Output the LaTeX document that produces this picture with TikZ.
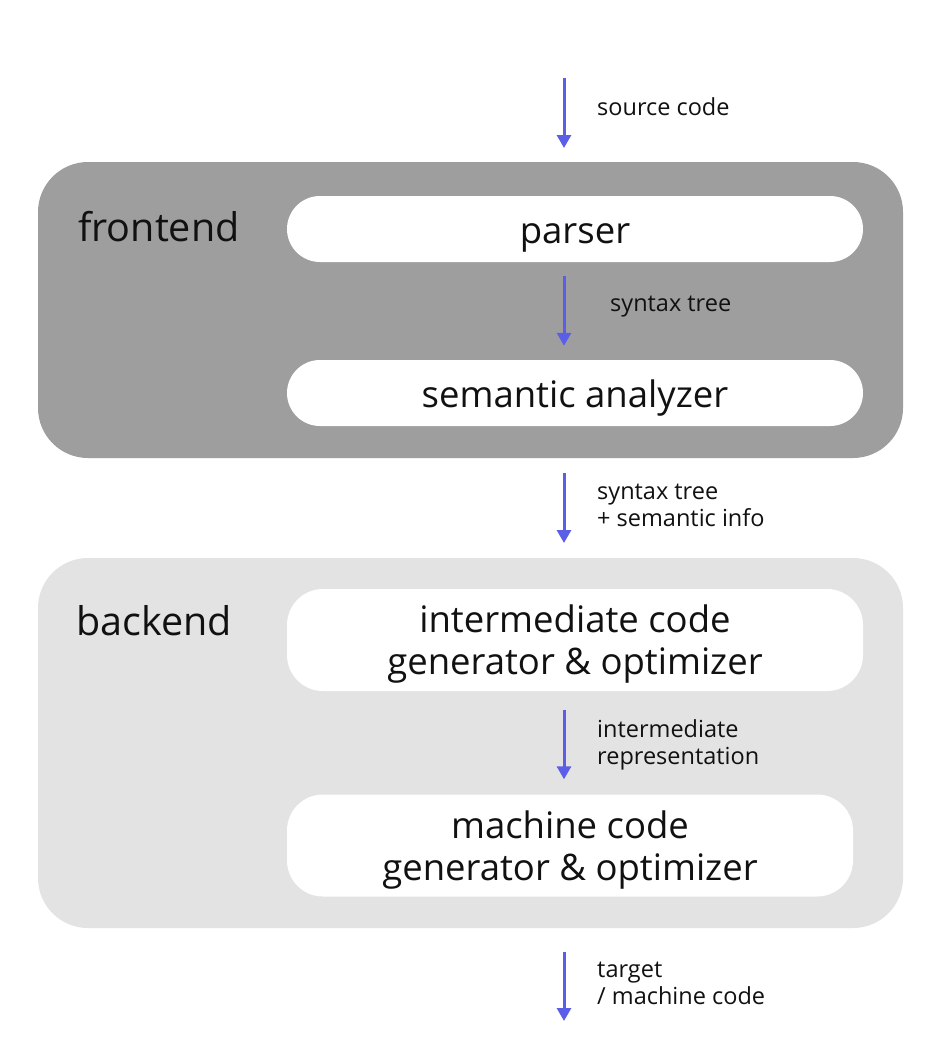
\documentclass[tikz,border=0pt]{standalone}
\usepackage{fontspec}
\setmainfont{Open Sans}
\usetikzlibrary{arrows.meta}
\definecolor{arrowc}{HTML}{5B5FE8}
\definecolor{frontc}{HTML}{9E9E9E}
\definecolor{backc}{HTML}{E3E3E3}
\definecolor{txt}{HTML}{111111}
\begin{document}
\begin{tikzpicture}[x=1pt,y=-1pt,
  group/.style={fill=#1,draw=none,rounded corners=50pt},
  stage/.style={fill=white,draw=none,rounded corners=33pt,minimum width=576pt,inner sep=0pt},
  stagetext/.style={anchor=base,text=txt,font=\fontsize{36.5}{43}\selectfont,inner sep=0pt},
  grouplabel/.style={anchor=base west,text=txt,font=\fontsize{39.5}{44}\selectfont,inner sep=0pt},
  flowlabel/.style={anchor=base west,text=txt,font=\fontsize{23.5}{27}\selectfont,inner sep=0pt},
  flow/.style={draw=arrowc,line width=3pt,-{Triangle[length=13pt,width=14pt]}}]
\useasboundingbox (0,0) rectangle (944,1049);
\fill[white] (0,0) rectangle (944,1049);
% groups
\path[group=frontc] (38,162) rectangle (903,458);
\path[group=backc] (38,558) rectangle (903,928);
\node[grouplabel] (fe) at (78,241) {frontend};
\node[grouplabel] (be) at (76,635) {backend};
% stages
\node[stage,minimum height=66pt] (parser) at (575,229) {};
\node[stage,minimum height=66pt] (sem) at (575,393) {};
\node[stage,minimum height=102pt,rounded corners=36pt] (inter) at (575,640) {};
\node[stage,minimum height=102pt,minimum width=566pt,rounded corners=36pt] (mach) at (570,845.5) {};
\node[stagetext] (parser-t) at (575,243) {parser};
\node[stagetext] (sem-t) at (575,407) {semantic analyzer};
\node[stagetext] (inter-t1) at (575,632) {intermediate code};
\node[stagetext] (inter-t2) at (575,674) {generator \& optimizer};
\node[stagetext] (mach-t1) at (570,838) {machine code};
\node[stagetext] (mach-t2) at (570,880) {generator \& optimizer};
% arrow endpoints
\coordinate (a0) at (564,78);
\coordinate (a0e) at (564,148);
\coordinate (a1) at ([xshift=-11pt,yshift=-14pt]parser.south);
\coordinate (a1e) at ([xshift=-11pt,yshift=14pt]sem.north);
\coordinate (a2) at (564,473);
\coordinate (a2e) at (564,543);
\coordinate (a3) at ([xshift=-11pt,yshift=-19pt]inter.south);
\coordinate (a3e) at ([xshift=-6pt,yshift=15pt]mach.north);
\coordinate (a4) at (564,952);
\coordinate (a4e) at (564,1021);
\draw[flow] (a0) -- (a0e);
\draw[flow] (a1) -- (a1e);
\draw[flow] (a2) -- (a2e);
\draw[flow] (a3) -- (a3e);
\draw[flow] (a4) -- (a4e);
% labels
\node[flowlabel] (l0) at (597,115) {source code};
\node[flowlabel] (l1) at (610,311) {syntax tree};
\node[flowlabel] (l2a) at (597,499) {syntax tree};
\node[flowlabel] (l2b) at (597,526) {+ semantic info};
\node[flowlabel] (l3a) at (597,737) {intermediate};
\node[flowlabel] (l3b) at (597,764) {representation};
\node[flowlabel] (l4a) at (597,977) {target};
\node[flowlabel] (l4b) at (597,1004) {/ machine code};
\end{tikzpicture}
\end{document}
